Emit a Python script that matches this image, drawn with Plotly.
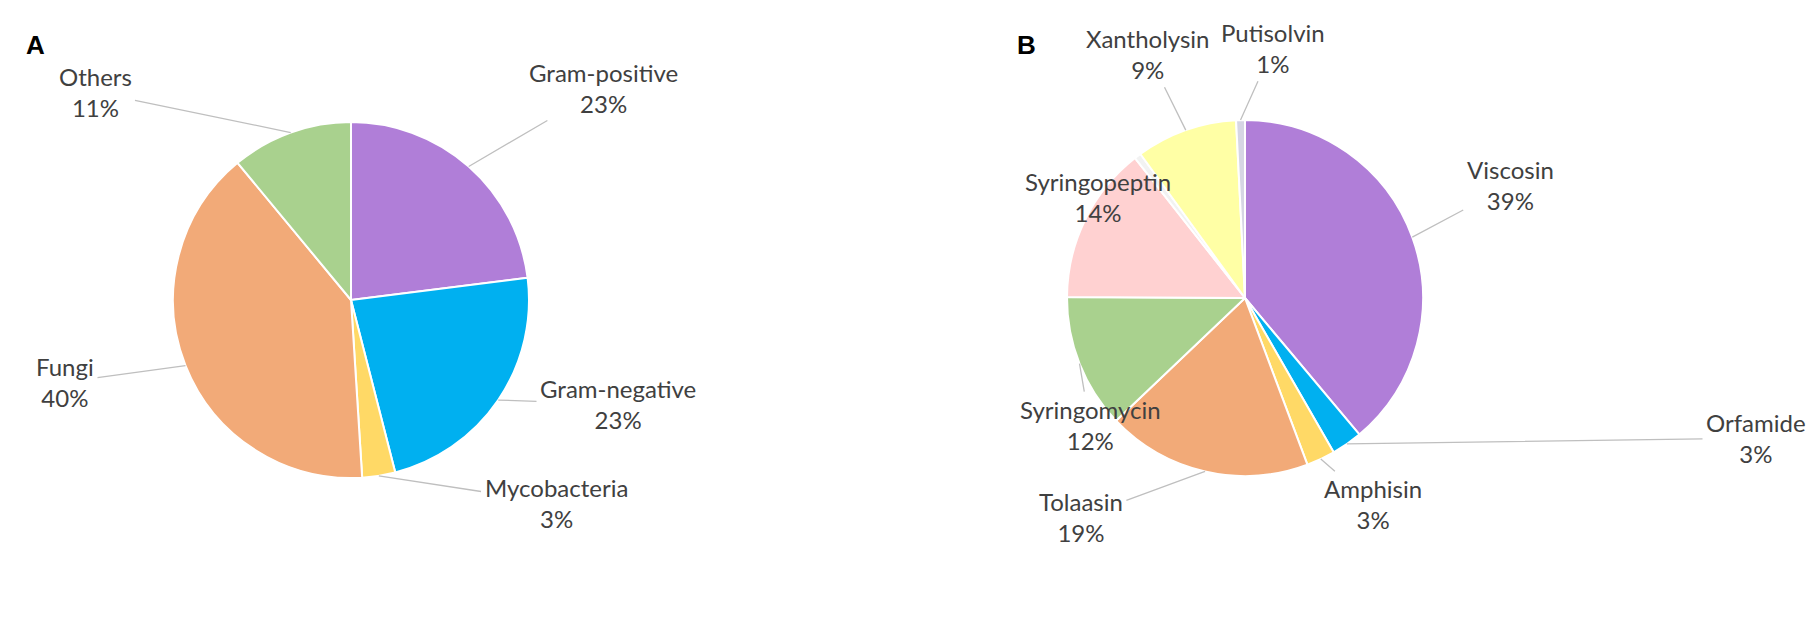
import math
import plotly.graph_objects as go

# --- 설정 ---
W, H = 1816, 617
FONT = "Lato"

# Panel A: 표적 미생물
targets = ["Gram-positive", "Gram-negative", "Mycobacteria", "Fungi", "Others"]
target_pct = [23, 23, 3, 40, 11]
target_colors = ["#B07ED8", "#00B0F0", "#FFD966", "#F2AA78", "#A9D18E"]

# Panel B: 그룹별 비율 (빈 조각은 라벨 없음)
groups = ["Viscosin", "Orfamide", "Amphisin", "Tolaasin", "Syringomycin",
          "Syringopeptin", "", "Xantholysin", "Putisolvin"]
group_pct = [38.9, 2.8, 2.6, 18.6, 12.2, 14.3, 0.6, 9.2, 0.8]
group_labels = ["39%", "3%", "3%", "19%", "12%", "14%", "", "9%", "1%"]
group_colors = ["#B07ED8", "#00B0F0", "#FFD966", "#F2AA78", "#A9D18E",
                "#FFD1D1", "#F2F2F2", "#FFFFA5", "#D6D6E4"]

# 파이 중심/반지름 (픽셀)
pie_a = dict(cx=343, cy=292, r=178)
pie_b = dict(cx=1237, cy=290, r=178)

# 라벨 위치 (픽셀, 텍스트 중심)
label_pos_a = [(595, 80), (610, 396), (548, 495), (57, 374), (87, 84)]
label_pos_b = [(1502, 177), (1748, 430), (1365, 496), (1073, 509), (1082, 417),
               (1090, 189), None, (1140, 46), (1265, 40)]


def domain(p):
    cx, cy, r = p["cx"], p["cy"], p["r"]
    return dict(x=[(cx - r) / W, (cx + r) / W], y=[1 - (cy + r) / H, 1 - (cy - r) / H])


def edge_point(p, values, i):
    total = sum(values)
    mid = (sum(values[:i]) + values[i] / 2) / total * 2 * math.pi
    return p["cx"] + p["r"] * math.sin(mid), p["cy"] - p["r"] * math.cos(mid)


fig = go.Figure()
fig.add_trace(go.Pie(
    labels=targets, values=target_pct, sort=False, direction="clockwise", rotation=0,
    marker=dict(colors=target_colors, line=dict(color="white", width=2)),
    textinfo="none", domain=domain(pie_a), showlegend=False,
))
fig.add_trace(go.Pie(
    labels=[g if g else " " for g in groups], values=group_pct, sort=False,
    direction="clockwise", rotation=0,
    marker=dict(colors=group_colors, line=dict(color="white", width=2)),
    textinfo="none", domain=domain(pie_b), showlegend=False,
))

annotations = []


def add_labels(p, names, values, texts, positions):
    for i, pos in enumerate(positions):
        if pos is None:
            continue
        px, py = edge_point(p, values, i)
        annotations.append(dict(
            x=px / W, y=1 - py / H, xref="paper", yref="paper",
            ax=pos[0] - px, ay=pos[1] - py,
            text=f"{names[i]}<br>{texts[i]}", showarrow=True, arrowhead=0,
            arrowcolor="#BFBFBF", arrowwidth=1.3, standoff=0, startstandoff=2,
            font=dict(family=FONT, size=24, color="#404040"), align="center",
        ))


add_labels(pie_a, targets, target_pct, [f"{v}%" for v in target_pct], label_pos_a)
add_labels(pie_b, groups, group_pct, group_labels, label_pos_b)

# 패널 문자
for letter, x in [("A", 16), ("B", 1018)]:
    annotations.append(dict(
        x=x / W, y=1 - 20 / H, xref="paper", yref="paper", showarrow=False,
        text=f"<b>{letter}</b>", font=dict(family="Liberation Sans", size=26, color="black"),
    ))

fig.update_layout(
    width=W, height=H, margin=dict(l=0, r=0, t=0, b=0),
    paper_bgcolor="white", plot_bgcolor="white",
    annotations=annotations,
)

fig.write_html("out.html")
